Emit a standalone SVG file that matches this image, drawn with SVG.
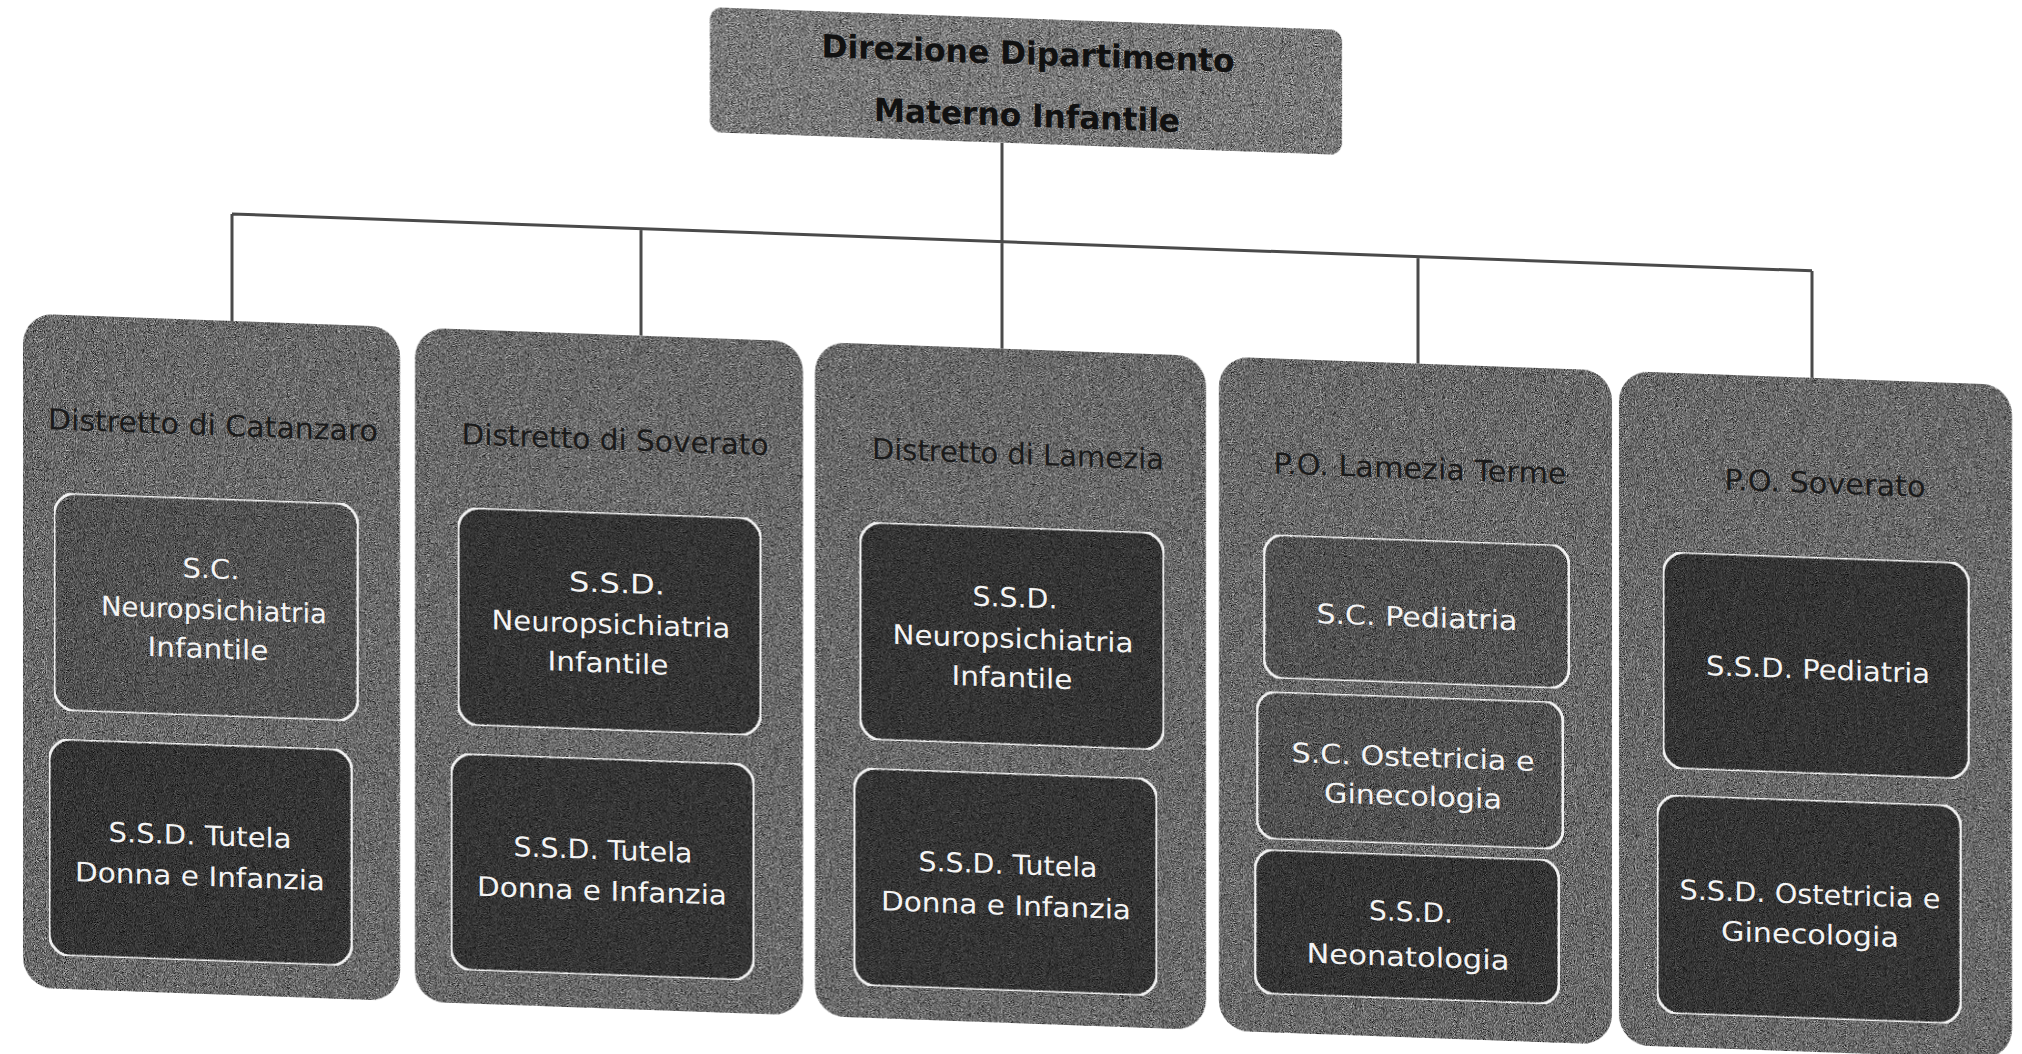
<svg xmlns="http://www.w3.org/2000/svg" width="2022" height="1054" viewBox="0 0 2022 1054">
<defs>
<filter id="grain" x="0" y="0" width="100%" height="100%" color-interpolation-filters="sRGB">
  <feTurbulence type="fractalNoise" baseFrequency="1.1" numOctaves="2" seed="7" result="n"/>
  <feColorMatrix in="n" type="matrix" values="0.33 0.33 0.33 0 0  0.33 0.33 0.33 0 0  0.33 0.33 0.33 0 0  0 0 0 0 1" result="g"/>
  <feComponentTransfer in="g" result="c">
    <feFuncR type="linear" slope="2.6" intercept="-0.8"/>
    <feFuncG type="linear" slope="2.6" intercept="-0.8"/>
    <feFuncB type="linear" slope="2.6" intercept="-0.8"/>
  </feComponentTransfer>
  <feBlend in="c" in2="SourceGraphic" mode="overlay" result="b"/>
  <feComposite in="b" in2="SourceGraphic" operator="in"/>
</filter>
</defs>
<style>
.col{fill:#6c6c6c;filter:url(#grain)}
.topbox{fill:#7c7c7c;filter:url(#grain)}
.in{stroke:#f2f2f2;stroke-width:3;filter:url(#grain)}
.dark{fill:#363636}
.mid{fill:#545454}
.title{font-family:"DejaVu Sans",sans-serif;font-size:29px;fill:#1a1a1a;text-anchor:middle}
.lbl{font-family:"DejaVu Sans",sans-serif;font-size:27px;fill:#f4f4f4;text-anchor:middle}
.head{font-family:"DejaVu Sans",sans-serif;font-weight:bold;font-size:32px;fill:#111;text-anchor:middle}
.conn{stroke:#4a4a4a;stroke-width:3;fill:none}
</style>
<rect width="2022" height="1054" fill="#ffffff"/>
<g transform="matrix(1 0.036 0 1 0 -36.4)">
  <g id="connectors">
    <path class="conn" d="M1002 143 V349 M232 242 H1812 M232 242 V349 M641 242 V349 M1418 242 V349 M1812 242 V349"/>
  </g>
  <g id="direzione">
    <rect class="topbox" x="710" y="18" width="632" height="125" rx="12"/>
    <text class="head" x="1028" y="64" textLength="413" lengthAdjust="spacingAndGlyphs">Direzione Dipartimento</text>
    <text class="head" x="1027" y="126" textLength="306" lengthAdjust="spacingAndGlyphs">Materno Infantile</text>
  </g>
  <g id="distretto-catanzaro">
    <rect class="col" x="23" y="349" width="377" height="674" rx="30"/>
    <text class="title" x="213" y="464" textLength="330" lengthAdjust="spacingAndGlyphs">Distretto di Catanzaro</text>
    <rect class="in mid" x="54" y="527" width="304" height="218" rx="22"/>
    <text class="lbl" x="211" y="607" textLength="57" lengthAdjust="spacingAndGlyphs">S.C.</text>
    <text class="lbl" x="214" y="648" textLength="226" lengthAdjust="spacingAndGlyphs">Neuropsichiatria</text>
    <text class="lbl" x="208" y="687" textLength="121" lengthAdjust="spacingAndGlyphs">Infantile</text>
    <rect class="in dark" x="49" y="773" width="303" height="217" rx="22"/>
    <text class="lbl" x="200" y="874" textLength="183" lengthAdjust="spacingAndGlyphs">S.S.D. Tutela</text>
    <text class="lbl" x="200" y="915" textLength="250" lengthAdjust="spacingAndGlyphs">Donna e Infanzia</text>
  </g>
  <g id="distretto-soverato">
    <rect class="col" x="415" y="349" width="388" height="674" rx="30"/>
    <text class="title" x="615" y="464" textLength="307" lengthAdjust="spacingAndGlyphs">Distretto di Soverato</text>
    <rect class="in dark" x="458" y="527" width="303" height="218" rx="22"/>
    <text class="lbl" x="617" y="607" textLength="96" lengthAdjust="spacingAndGlyphs">S.S.D.</text>
    <text class="lbl" x="611" y="648" textLength="239" lengthAdjust="spacingAndGlyphs">Neuropsichiatria</text>
    <text class="lbl" x="608" y="687" textLength="121" lengthAdjust="spacingAndGlyphs">Infantile</text>
    <rect class="in dark" x="451" y="773" width="303" height="217" rx="22"/>
    <text class="lbl" x="603" y="874" textLength="179" lengthAdjust="spacingAndGlyphs">S.S.D. Tutela</text>
    <text class="lbl" x="602" y="915" textLength="250" lengthAdjust="spacingAndGlyphs">Donna e Infanzia</text>
  </g>
  <g id="distretto-lamezia">
    <rect class="col" x="815" y="349" width="391" height="674" rx="30"/>
    <text class="title" x="1018" y="464" textLength="292" lengthAdjust="spacingAndGlyphs">Distretto di Lamezia</text>
    <rect class="in dark" x="860" y="527" width="304" height="218" rx="22"/>
    <text class="lbl" x="1015" y="607" textLength="85" lengthAdjust="spacingAndGlyphs">S.S.D.</text>
    <text class="lbl" x="1013" y="648" textLength="241" lengthAdjust="spacingAndGlyphs">Neuropsichiatria</text>
    <text class="lbl" x="1012" y="687" textLength="121" lengthAdjust="spacingAndGlyphs">Infantile</text>
    <rect class="in dark" x="854" y="773" width="303" height="218" rx="22"/>
    <text class="lbl" x="1008" y="874" textLength="179" lengthAdjust="spacingAndGlyphs">S.S.D. Tutela</text>
    <text class="lbl" x="1006" y="915" textLength="250" lengthAdjust="spacingAndGlyphs">Donna e Infanzia</text>
  </g>
  <g id="po-lamezia-terme">
    <rect class="col" x="1219" y="349" width="393" height="674" rx="30"/>
    <text class="title" x="1420" y="464" textLength="293" lengthAdjust="spacingAndGlyphs">P.O. Lamezia Terme</text>
    <rect class="in mid" x="1264" y="525" width="305" height="144" rx="20"/>
    <text class="lbl" x="1417" y="612" textLength="201" lengthAdjust="spacingAndGlyphs">S.C. Pediatria</text>
    <rect class="in mid" x="1257" y="682" width="306" height="148" rx="20"/>
    <text class="lbl" x="1413" y="752" textLength="243" lengthAdjust="spacingAndGlyphs">S.C. Ostetricia e</text>
    <text class="lbl" x="1413" y="791" textLength="178" lengthAdjust="spacingAndGlyphs">Ginecologia</text>
    <rect class="in dark" x="1255" y="840" width="304" height="145" rx="20"/>
    <text class="lbl" x="1411" y="907" textLength="84" lengthAdjust="spacingAndGlyphs">S.S.D.</text>
    <text class="lbl" x="1408" y="952" textLength="203" lengthAdjust="spacingAndGlyphs">Neonatologia</text>
  </g>
  <g id="po-soverato">
    <rect class="col" x="1619" y="349" width="393" height="674" rx="30"/>
    <text class="title" x="1825" y="464" textLength="201" lengthAdjust="spacingAndGlyphs">P.O. Soverato</text>
    <rect class="in dark" x="1663" y="528" width="306" height="217" rx="22"/>
    <text class="lbl" x="1818" y="650" textLength="224" lengthAdjust="spacingAndGlyphs">S.S.D. Pediatria</text>
    <rect class="in dark" x="1657" y="771" width="304" height="219" rx="22"/>
    <text class="lbl" x="1810" y="875" textLength="261" lengthAdjust="spacingAndGlyphs">S.S.D. Ostetricia e</text>
    <text class="lbl" x="1810" y="915" textLength="178" lengthAdjust="spacingAndGlyphs">Ginecologia</text>
  </g>
</g>
</svg>
